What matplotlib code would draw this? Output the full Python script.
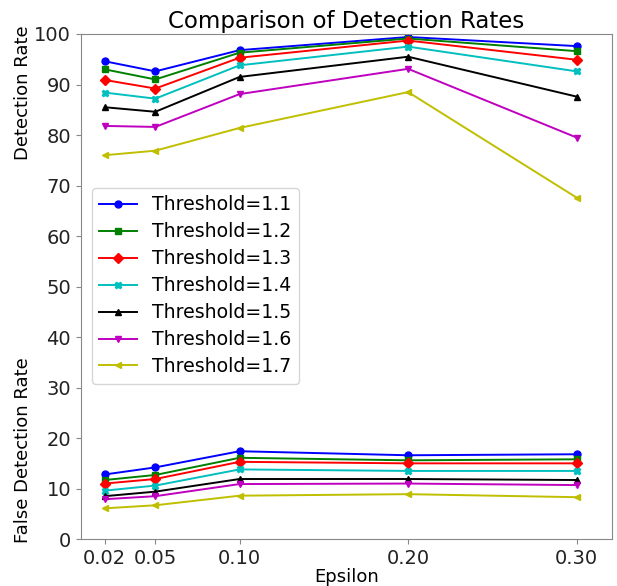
import matplotlib
matplotlib.use("Agg")
import matplotlib.pyplot as plt

epsilon = [0.02, 0.05, 0.10, 0.20, 0.30]
thresholds = ["1.1", "1.2", "1.3", "1.4", "1.5", "1.6", "1.7"]

# detection rates per threshold
det_11 = [94.6, 92.6, 96.8, 99.4, 97.6]
det_12 = [93.0, 91.0, 96.3, 99.1, 96.6]
det_13 = [90.9, 89.2, 95.3, 98.7, 94.9]
det_14 = [88.4, 87.2, 93.8, 97.5, 92.6]
det_15 = [85.5, 84.6, 91.5, 95.5, 87.6]
det_16 = [81.8, 81.6, 88.1, 93.1, 79.5]
det_17 = [76.0, 76.9, 81.4, 88.5, 67.6]

# false detection rates per threshold
fdr_11 = [12.8, 14.2, 17.4, 16.6, 16.8]
fdr_12 = [11.7, 12.7, 16.1, 15.6, 15.8]
fdr_13 = [11.0, 11.9, 15.3, 15.0, 15.0]
fdr_14 = [9.6, 10.6, 13.8, 13.5, 13.5]
fdr_15 = [8.5, 9.4, 11.9, 11.9, 11.7]
fdr_16 = [7.9, 8.5, 10.9, 11.0, 10.7]
fdr_17 = [6.1, 6.7, 8.6, 8.9, 8.3]

det = [det_11, det_12, det_13, det_14, det_15, det_16, det_17]
fdr = [fdr_11, fdr_12, fdr_13, fdr_14, fdr_15, fdr_16, fdr_17]
colors = ['b', 'g', 'r', 'c', 'k', 'm', 'y']
markers = ['o', 's', 'D', 'X', '^', 'v', '<']

fig = plt.figure(figsize=(6.17, 5.86), dpi=100)
ax = fig.add_axes([0.131, 0.080, 0.861, 0.862])

for i in range(len(thresholds)):
    ax.plot(epsilon, det[i], color=colors[i], marker=markers[i], markersize=5,
            linewidth=1.4, label='Threshold=' + thresholds[i])
    ax.plot(epsilon, fdr[i], color=colors[i], marker=markers[i], markersize=5,
            linewidth=1.4)

ax.set_xlim(0.0058, 0.321)
ax.set_ylim(0, 100)
ax.set_xticks(epsilon)
ax.set_xticklabels(['0.02', '0.05', '0.10', '0.20', '0.30'])
ax.set_yticks(range(0, 101, 10))
ax.tick_params(labelsize=14, color='#888888', labelcolor='#222222')
for s in ax.spines.values():
    s.set_color('#888888')

ax.set_title('Comparison of Detection Rates', fontsize=16.5, pad=4)
ax.set_xlabel('Epsilon', fontsize=13, labelpad=0)
fig.text(0.037, 0.841, 'Detection Rate', rotation=90, fontsize=13,
         ha='center', va='center')
fig.text(0.037, 0.232, 'False Detection Rate', rotation=90, fontsize=13,
         ha='center', va='center')

ax.legend(loc='upper left', bbox_to_anchor=(0.003, 0.714), fontsize=13.6,
          handlelength=2.0, labelspacing=0.42)

fig.savefig('out.png', dpi=100)
